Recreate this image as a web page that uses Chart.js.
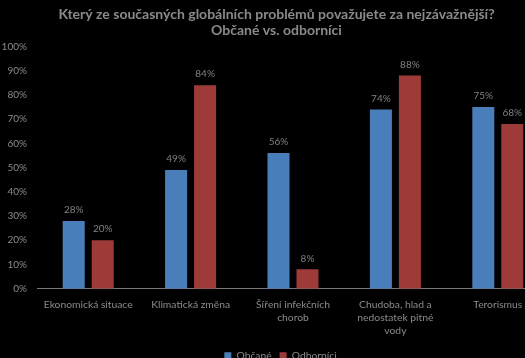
<!DOCTYPE html>
<html>
<head>
<meta charset="utf-8">
<script src="https://cdn.jsdelivr.net/npm/chart.js@4/dist/chart.umd.min.js"></script>
<style>
html,body{margin:0;padding:0;background:#000;overflow:hidden;width:525px;height:358px;}
#wrap{position:absolute;left:0;top:0;width:560px;height:371px;}
</style>
</head>
<body>
<div id="wrap"><canvas id="c" width="560" height="371"></canvas></div>
<script>
const categories = [
  "Ekonomická situace",
  "Klimatická změna",
  ["Šíření infekčních", "chorob"],
  ["Chudoba, hlad a", "nedostatek pitné", "vody"],
  "Terorismus"
];
const seriesNames = ["Občané", "Odborníci"];
const obcane = [28, 49, 56, 74, 75];
const odbornici = [20, 84, 8, 88, 68];
const yTicks = [0, 10, 20, 30, 40, 50, 60, 70, 80, 90, 100];

const FONT = "Lato, 'Open Sans', sans-serif";
const GRAY = "#8a8a8a";

const dataLabels = {
  id: "dataLabels",
  afterDatasetsDraw(chart) {
    const ctx = chart.ctx;
    ctx.save();
    ctx.font = "10px " + FONT;
    ctx.fillStyle = "#808080";
    ctx.textAlign = "center";
    ctx.textBaseline = "bottom";
    chart.data.datasets.forEach((ds, i) => {
      chart.getDatasetMeta(i).data.forEach((bar, j) => {
        ctx.fillText(ds.data[j] + "%", bar.x, bar.y - 6);
      });
    });
    ctx.restore();
  }
};

const shiftBoxes = {
  id: "shiftBoxes",
  afterLayout(chart) {
    if (chart.titleBlock) { chart.titleBlock.left += 2; chart.titleBlock.right += 2; }
    if (chart.legend) { chart.legend.left += 6; chart.legend.right += 6; }
  }
};

new Chart(document.getElementById("c"), {
  type: "bar",
  data: {
    labels: categories,
    datasets: [
      { label: seriesNames[0], data: obcane, backgroundColor: "#4a7ebb", borderWidth: 0 },
      { label: seriesNames[1], data: odbornici, backgroundColor: "#9e3b38", borderWidth: 0 }
    ]
  },
  options: {
    responsive: false,
    animation: false,
    devicePixelRatio: 1,
    layout: { padding: { left: 0, right: 11, top: 0, bottom: 0 } },
    datasets: {
      bar: { categoryPercentage: 0.566, barPercentage: 0.76 }
    },
    plugins: {
      title: {
        display: true,
        text: ["Který ze současných globálních problémů považujete za nejzávažnější?", "Občané vs. odborníci"],
        color: GRAY,
        font: { family: FONT, size: 14, weight: "bold", lineHeight: 1.16 },
        padding: { top: 6, bottom: 8 }
      },
      legend: {
        position: "bottom",
        labels: {
          color: GRAY,
          font: { family: FONT, size: 10.3 },
          boxWidth: 7,
          boxHeight: 7,
          padding: 8
        }
      },
      tooltip: { enabled: false }
    },
    scales: {
      x: {
        grid: { display: false, drawTicks: false },
        border: { display: true, color: "#777", width: 1 },
        afterFit(scale) { scale.height = 54; },
        ticks: {
          color: GRAY,
          font: { family: FONT, size: 10.3, lineHeight: 1.27 },
          maxRotation: 0,
          autoSkip: false,
          padding: 9
        }
      },
      y: {
        min: 0,
        max: 100,
        grid: { display: false, drawTicks: false },
        border: { display: false },
        afterBuildTicks(scale) { scale.ticks = yTicks.map(v => ({ value: v })); },
        afterFit(scale) { scale.width = 37; },
        ticks: {
          color: GRAY,
          font: { family: FONT, size: 10 },
          padding: 10,
          callback: v => v + "%"
        }
      }
    }
  },
  plugins: [dataLabels, shiftBoxes]
});
</script>
</body>
</html>
